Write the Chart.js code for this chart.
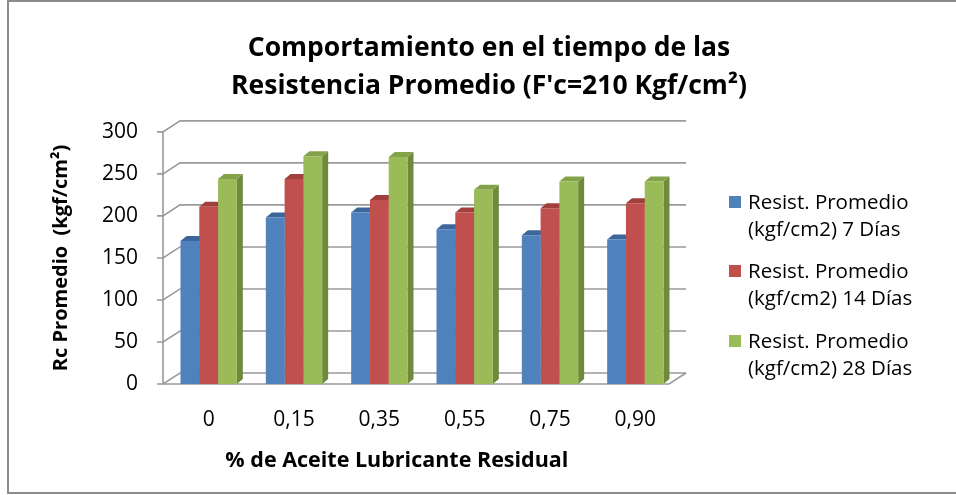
<!DOCTYPE html>
<html>
<head>
<meta charset="utf-8">
<script src="https://cdn.jsdelivr.net/npm/chart.js@4/dist/chart.umd.min.js"></script>
<style>
  html, body { margin: 0; padding: 0; background: #ffffff; }
  #wrap { position: relative; width: 956px; height: 495px; }
  canvas { display: block; }
</style>
</head>
<body>
<div id="wrap"><canvas id="c" width="956" height="495"></canvas></div>
<script>
// Residual lubricant oil content (x categories)
const categories = ['0', '0,15', '0,35', '0,55', '0,75', '0,90'];
// Average compressive strength (kgf/cm2) at each age
const dias7  = [170, 198, 204, 184, 177, 172];
const dias14 = [211, 244, 219, 204, 209, 215];
const dias28 = [244, 271, 270, 231, 241, 241];
const seriesLabels = [
  ['Resist. Promedio', '(kgf/cm2) 7 Días'],
  ['Resist. Promedio', '(kgf/cm2) 14 Días'],
  ['Resist. Promedio', '(kgf/cm2) 28 Días']
];
const yTicks = [0, 50, 100, 150, 200, 250, 300];

const FONT = '"Open Sans", sans-serif';
const front = ['#4F81BD', '#C0504D', '#9BBB59'];
const side  = ['#385D8A', '#8C3836', '#6F8A3C'];
const top_  = ['#3D679A', '#A03F3C', '#83A24A'];

// Wall / floor depth and bar depth
const WALL_DX = 17, WALL_DY = -11;
const BAR_DX = 6, BAR_DY = -5;

// Back wall, side wall and floor drawn behind the bars
const wallPlugin = {
  id: 'walls',
  beforeDatasetsDraw(chart) {
    const { ctx, chartArea: a, scales: { y } } = chart;
    const fx = a.left - 3;
    const bx = fx + WALL_DX;
    ctx.save();
    ctx.strokeStyle = '#9a9a9a';
    ctx.lineWidth = 1.6;
    yTicks.forEach(v => {
      const py = y.getPixelForValue(v);
      ctx.beginPath();
      ctx.moveTo(fx - 6, py); ctx.lineTo(fx, py);
      ctx.lineTo(bx, py + WALL_DY);
      ctx.lineTo(a.right + 8, py + WALL_DY);
      ctx.stroke();
    });
    const y0 = y.getPixelForValue(0);
    const yTop = y.getPixelForValue(300);
    ctx.beginPath();
    ctx.moveTo(fx, yTop); ctx.lineTo(fx, y0);
    ctx.lineTo(a.right - 9, y0);
    ctx.lineTo(a.right + 8, y0 + WALL_DY);
    ctx.stroke();
    ctx.restore();

    // side and top faces of every bar, fronts are drawn by the library on top
    chart.data.datasets.forEach((ds, di) => {
      const meta = chart.getDatasetMeta(di);
      meta.data.forEach(bar => {
        const { x, y: ty, base, width } = bar.getProps(['x', 'y', 'base', 'width'], true);
        const l = x - width / 2, r = x + width / 2;
        ctx.save();
        ctx.fillStyle = side[di];
        ctx.beginPath();
        ctx.moveTo(r, ty); ctx.lineTo(r + BAR_DX, ty + BAR_DY);
        ctx.lineTo(r + BAR_DX, base + BAR_DY); ctx.lineTo(r, base);
        ctx.closePath(); ctx.fill();
        ctx.fillStyle = top_[di];
        ctx.beginPath();
        ctx.moveTo(l, ty); ctx.lineTo(l + BAR_DX, ty + BAR_DY);
        ctx.lineTo(r + BAR_DX, ty + BAR_DY); ctx.lineTo(r, ty);
        ctx.closePath(); ctx.fill();
        ctx.restore();
      });
    });
  }
};

// Two-line legend on the right and the outer frame
const legendPlugin = {
  id: 'sideLegend',
  afterDraw(chart) {
    const { ctx } = chart;
    ctx.save();
    ctx.strokeStyle = '#8c8c8c';
    ctx.lineWidth = 2;
    ctx.strokeRect(8, 1, 960, 492);
    ctx.font = '20.5px ' + FONT;
    ctx.textBaseline = 'middle';
    const rows = [203, 272, 342];
    chart.data.datasets.forEach((ds, i) => {
      const cy = rows[i];
      ctx.fillStyle = front[i];
      ctx.fillRect(729, cy - 7, 12, 12);
      ctx.fillStyle = '#000';
      seriesLabels[i].forEach((t, k) => ctx.fillText(t, 748, cy + k * 27));
    });
    ctx.restore();
  }
};

new Chart(document.getElementById('c'), {
  type: 'bar',
  data: {
    labels: categories,
    datasets: [
      { label: seriesLabels[0].join(' '), data: dias7,  backgroundColor: front[0] },
      { label: seriesLabels[1].join(' '), data: dias14, backgroundColor: front[1] },
      { label: seriesLabels[2].join(' '), data: dias28, backgroundColor: front[2] }
    ]
  },
  options: {
    responsive: false,
    animation: false,
    layout: { padding: { left: 22, right: 0, top: 0, bottom: 0 }, autoPadding: false },
    datasets: { bar: { barPercentage: 1.0, categoryPercentage: 0.66 } },
    plugins: {
      legend: { display: false },
      tooltip: { enabled: false },
      title: {
        display: true,
        text: ['Comportamiento en el tiempo de las', 'Resistencia Promedio (F\'c=210 Kgf/cm²)'],
        font: { family: FONT, size: 26.5, weight: 'bold', lineHeight: 1.45 },
        color: '#000',
        padding: { top: 29, bottom: 26 },
        align: 'center'
      }
    },
    scales: {
      x: {
        grid: { display: false, drawTicks: false },
        border: { display: false },
        ticks: { font: { family: FONT, size: 21 }, color: '#000', padding: 23, maxRotation: 0 },
        title: {
          display: true,
          text: '% de Aceite Lubricante Residual' + '\u00A0'.repeat(9),
          font: { family: FONT, size: 21.5, weight: 'bold' },
          color: '#000',
          padding: { top: 0, bottom: 21 }
        },
        afterFit(s) { s.height = 111; }
      },
      y: {
        min: 0, max: 300,
        grid: { display: false, drawTicks: false },
        border: { display: false },
        ticks: { stepSize: 50, font: { family: FONT, size: 21 }, color: '#000', padding: 28 },
        title: {
          display: true,
          text: 'Rc Promedio  (kgf/cm²)',
          font: { family: FONT, size: 20, weight: 'bold' },
          color: '#000',
          padding: { top: 27, bottom: 0 }
        },
        afterFit(s) { s.width = 144; }
      },
      // empty right-hand box that reserves room for the legend
      side: {
        position: 'right',
        min: 0, max: 1,
        grid: { display: false, drawTicks: false },
        border: { display: false },
        ticks: { display: false },
        afterFit(s) { s.width = 278; }
      }
    }
  },
  plugins: [wallPlugin, legendPlugin]
});
</script>
</body>
</html>
